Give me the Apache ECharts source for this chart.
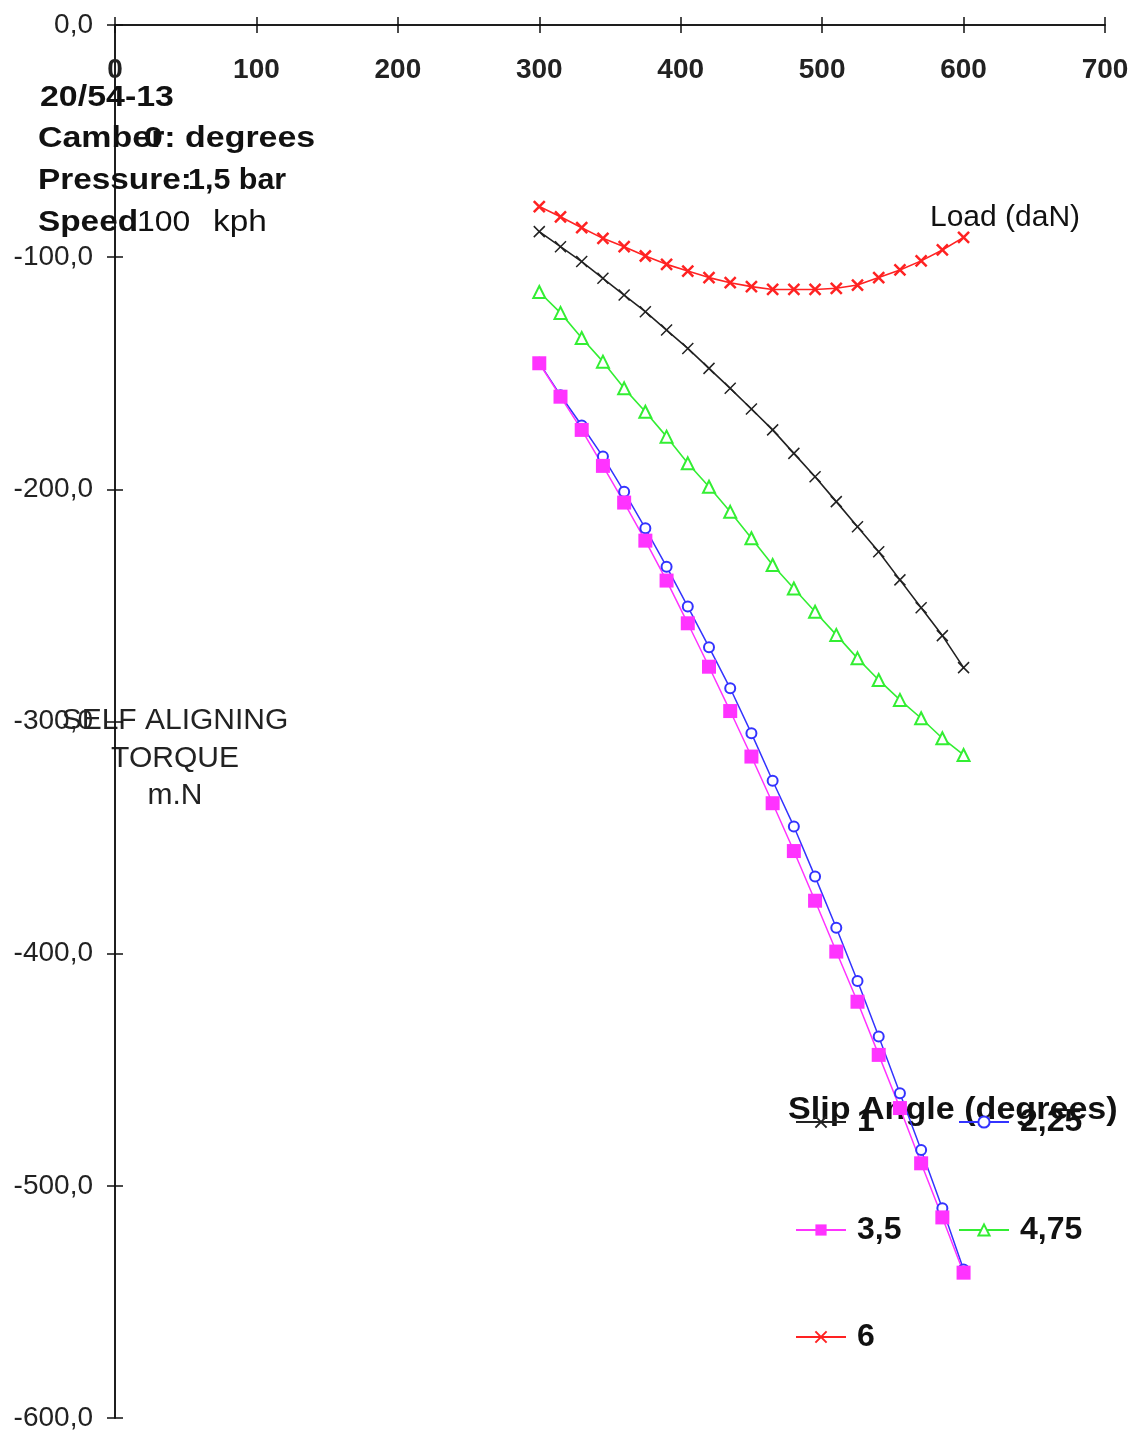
<!DOCTYPE html>
<html>
<head>
<meta charset="utf-8">
<script src="https://cdn.jsdelivr.net/npm/echarts@6/dist/echarts.min.js"></script>
<style>
html,body{margin:0;padding:0;background:#fff;}
#chart{width:1138px;height:1435px;}
</style>
</head>
<body>
<div id="chart"></div>
<script>
// Load (daN)
var loads = [300, 315, 330, 345, 360, 375, 390, 405, 420, 435, 450, 465, 480, 495, 510, 525, 540, 555, 570, 585, 600];
// Self aligning torque (m.N) per slip angle
var sa1    = [-89.0, -95.5, -101.9, -109.1, -116.3, -123.5, -131.4, -139.3, -147.9, -156.5, -165.4, -174.4, -184.5, -194.6, -205.3, -216.1, -226.9, -239.0, -251.0, -263.0, -276.8];
var sa225  = [-145.5, -159.5, -172.5, -185.9, -201.0, -216.8, -233.3, -250.5, -268.0, -285.7, -305.1, -325.5, -345.2, -366.8, -388.8, -411.8, -435.7, -460.1, -484.6, -509.7, -536.0];
var sa35   = [-145.7, -160.1, -174.4, -189.9, -205.7, -222.1, -239.3, -257.7, -276.4, -295.5, -315.1, -335.2, -355.8, -377.2, -399.1, -420.7, -443.6, -466.5, -490.3, -513.6, -537.4];
var sa475  = [-115.0, -124.0, -134.8, -145.0, -156.5, -166.6, -177.3, -188.8, -198.9, -209.7, -221.1, -232.6, -242.7, -252.7, -262.7, -272.8, -282.1, -290.7, -298.6, -307.2, -314.4];
var sa6    = [-78.2, -82.6, -87.3, -91.9, -95.5, -99.5, -103.1, -106.0, -108.8, -111.0, -112.7, -113.9, -113.9, -113.9, -113.4, -112.0, -108.8, -105.5, -101.6, -96.9, -91.5];
var seriesNames = ['1', '2,25', '3,5', '4,75', '6'];
var xTicks = [0, 100, 200, 300, 400, 500, 600, 700];
var yTicks = [0, -100, -200, -300, -400, -500, -600];

function pairs(ys){ return loads.map(function(x,i){ return [x, ys[i]]; }); }

var XSYM = 'path://M0,0L10,10M10,0L0,10';
var FONT = '"Liberation Sans", Arial, sans-serif';

var chart = echarts.init(document.getElementById('chart'), null, {renderer:'canvas'});

function txt(s, x, y, font, sx){
  return {type:'text', x:x, y:y, scaleX:sx||1, scaleY:1,
    style:{text:s, fill:'#111', font:font, textAlign:'left', textVerticalAlign:'middle'}};
}

var axisLine = {show:true, lineStyle:{color:'#111', width:1.5}};
var option = {
  animation:false,
  backgroundColor:'#fff',
  grid:{left:115, top:25, width:990, height:1393, containLabel:false},
  xAxis:[{
    type:'value', position:'top', min:xTicks[0], max:xTicks[xTicks.length-1], interval:100,
    axisLine:axisLine,
    axisTick:{show:true, inside:true, length:8, lineStyle:{color:'#111', width:1.5}},
    axisLabel:{inside:true, margin:31, color:'#222', fontFamily:FONT, fontSize:28, fontWeight:'bold'},
    splitLine:{show:false}
  },{
    type:'value', position:'top', min:xTicks[0], max:xTicks[xTicks.length-1], interval:100,
    axisLine:axisLine,
    axisTick:{show:true, inside:false, length:8, lineStyle:{color:'#111', width:1.5}},
    axisLabel:{show:false}, splitLine:{show:false}
  }],
  yAxis:[{
    type:'value', position:'left', min:yTicks[yTicks.length-1], max:yTicks[0], interval:100,
    axisLine:axisLine,
    axisTick:{show:true, inside:false, length:8, lineStyle:{color:'#111', width:1.5}},
    axisLabel:{margin:22, color:'#222', fontFamily:FONT, fontSize:28,
      formatter:function(v){ return v.toFixed(1).replace('.', ','); }},
    splitLine:{show:false}
  },{
    type:'value', position:'left', offset:0, min:yTicks[yTicks.length-1], max:yTicks[0], interval:100,
    axisLine:axisLine,
    axisTick:{show:true, inside:true, length:8, lineStyle:{color:'#111', width:1.5}},
    axisLabel:{show:false}, splitLine:{show:false}
  }],
  legend:[
    {data:[seriesNames[0]], left:795, top:1106},
    {data:[seriesNames[1]], left:958, top:1106},
    {data:[seriesNames[2]], left:795, top:1214},
    {data:[seriesNames[3]], left:958, top:1214},
    {data:[seriesNames[4]], left:795, top:1321}
  ].map(function(l){
    l.itemWidth = 50; l.itemHeight = 14; l.padding = 0; l.itemGap = 0;
    l.textStyle = {color:'#111', fontFamily:FONT, fontSize:32, fontWeight:'bold', padding:[4,0,0,6]};
    return l;
  }),
  series:[
    {name:seriesNames[0], type:'line', data:pairs(sa1), symbol:XSYM, symbolSize:11,
      lineStyle:{color:'#222', width:1.6}, itemStyle:{color:'#222', borderColor:'#222', borderWidth:1.5}},
    {name:seriesNames[1], type:'line', data:pairs(sa225), symbol:'emptyCircle', symbolSize:10,
      lineStyle:{color:'#3333ff', width:1.5}, itemStyle:{color:'#3333ff', borderColor:'#3333ff', borderWidth:1.5}},
    {name:seriesNames[2], type:'line', data:pairs(sa35), symbol:'rect', symbolSize:14,
      lineStyle:{color:'#ff33ff', width:1.5}, itemStyle:{color:'#ff33ff', borderColor:'#ff33ff', borderWidth:0}},
    {name:seriesNames[3], type:'line', data:pairs(sa475), symbol:'emptyTriangle', symbolSize:12,
      lineStyle:{color:'#33ee33', width:1.6}, itemStyle:{color:'#33ee33', borderColor:'#33ee33', borderWidth:1.5}},
    {name:seriesNames[4], type:'line', data:pairs(sa6), symbol:XSYM, symbolSize:11,
      lineStyle:{color:'#ff2222', width:1.6}, itemStyle:{color:'#ff2222', borderColor:'#ff2222', borderWidth:2.5}}
  ],
  graphic:[
    txt('20/54-13', 40, 98, 'bold 29px '+FONT, 1.17),
    txt('Camber: degrees', 38, 139, 'bold 29px '+FONT, 1.17),
    txt('0', 144, 139, 'bold 29px '+FONT, 1.17),
    txt('Pressure:', 38, 181, 'bold 29px '+FONT, 1.15),
    txt('1,5 bar', 188, 181, 'bold 29px '+FONT, 1.05),
    txt('Speed', 38, 223, 'bold 29px '+FONT, 1.15),
    txt('100', 137, 223, '29px '+FONT, 1.1),
    txt('kph', 213, 223, '29px '+FONT, 1.15),
    txt('Load (daN)', 930, 218, '30px '+FONT, 1),
    {type:'text', x:175, y:702, style:{text:'SELF ALIGNING\nTORQUE\nm.N', fill:'#222', font:'30px '+FONT, textAlign:'center', lineHeight:37.5}},
    txt('Slip Angle (degrees)', 788, 1110, 'bold 31px '+FONT, 1.1)
  ]
};
chart.setOption(option);
</script>
</body>
</html>
